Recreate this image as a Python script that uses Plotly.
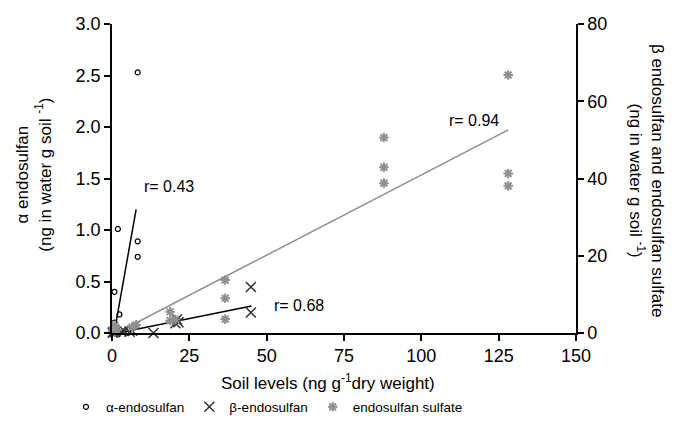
import plotly.graph_objects as go

# ---- data ----
alpha_x = [0.2, 0.3, 0.5, 0.8, 0.8, 1.0, 1.9, 2.4, 8.3, 8.3, 8.3]
alpha_y = [0.00, 0.02, 0.05, 0.40, 0.10, 0.03, 1.01, 0.18, 2.53, 0.89, 0.74]

beta_x = [0.2, 0.5, 1.0, 3.0, 4.0, 5.7, 6.5, 13.4, 20.5, 21.0, 21.5, 44.9, 44.9]
beta_y = [0.1, 0.3, 0.2, 0.4, 0.5, 0.3, 0.6, 0.0, 2.5, 3.5, 2.8, 11.9, 5.3]

sulfate_x = [0.2, 0.5, 0.8, 1.0, 1.5, 6.5, 7.8, 18.8, 18.8, 20.5,
             36.6, 36.6, 36.6, 87.9, 87.9, 87.9, 128.1, 128.1, 128.1]
sulfate_y = [0.5, 1.2, 0.3, 2.0, 0.8, 1.5, 2.1, 5.5, 3.2, 3.5,
             13.7, 9.0, 3.6, 50.6, 42.9, 38.8, 66.8, 41.3, 38.1]

alpha_fit_x = [1.0, 7.8]
alpha_fit_y = [0.05, 1.20]
beta_fit_x = [1.9, 45.1]
beta_fit_y = [0.0, 7.0]
sulfate_fit_x = [1.5, 128.1]
sulfate_fit_y = [0.0, 52.6]

r_labels = ["r= 0.43", "r= 0.68", "r= 0.94"]
r_x = [9.8, 51.6, 108.4]
r_y = [1.42, 0.27, 2.06]

x_ticks = [0, 25, 50, 75, 100, 125, 150]
yl_ticks = [0.0, 0.5, 1.0, 1.5, 2.0, 2.5, 3.0]
yr_ticks = [0, 20, 40, 60, 80]

FONT = "Liberation Sans, Arial, sans-serif"
GRAY = "#8f8f8f"

fig = go.Figure()

# fit lines
fig.add_trace(go.Scatter(x=alpha_fit_x, y=alpha_fit_y, mode="lines",
                         line=dict(color="black", width=1.5), showlegend=False,
                         yaxis="y"))
fig.add_trace(go.Scatter(x=beta_fit_x, y=beta_fit_y, mode="lines",
                         line=dict(color="black", width=1.5), showlegend=False,
                         yaxis="y2"))
fig.add_trace(go.Scatter(x=sulfate_fit_x, y=sulfate_fit_y, mode="lines",
                         line=dict(color=GRAY, width=1.5), showlegend=False,
                         yaxis="y2"))

# points
fig.add_trace(go.Scatter(x=alpha_x, y=alpha_y, mode="markers", name="α-endosulfan",
                         marker=dict(symbol="circle-open", size=5,
                                     color="black", line=dict(width=1.2)),
                         cliponaxis=False, yaxis="y"))
fig.add_trace(go.Scatter(x=beta_x, y=beta_y, mode="markers", name="β-endosulfan",
                         marker=dict(symbol="x-thin-open", size=10,
                                     color="#333333", line=dict(width=1.5)),
                         cliponaxis=False, yaxis="y2"))
fig.add_trace(go.Scatter(x=sulfate_x, y=sulfate_y, mode="markers", name="endosulfan sulfate",
                         marker=dict(symbol="asterisk-open", size=8,
                                     color=GRAY, line=dict(width=2, color=GRAY)),
                         cliponaxis=False, yaxis="y2"))

for t, xv, yv in zip(r_labels, r_x, r_y):
    fig.add_annotation(x=xv, y=yv, xref="x", yref="y", text=t, showarrow=False,
                       xanchor="left", yanchor="middle",
                       font=dict(size=16, color="black", family=FONT))

# axis titles as annotations
fig.add_annotation(x=0.465, y=-0.159, xref="paper", yref="paper",
                   text="Soil levels (ng g<sup>-1</sup>dry weight)", showarrow=False,
                   xanchor="center", yanchor="middle",
                   font=dict(size=17, color="black", family=FONT))
fig.add_annotation(x=-0.169, y=0.511, xref="paper", yref="paper",
                   text="α endosulfan<br>(ng in water g soil <sup>-1</sup>)",
                   showarrow=False, textangle=-90, xanchor="center", yanchor="middle",
                   font=dict(size=17, color="black", family=FONT))
fig.add_annotation(x=1.151, y=0.492, xref="paper", yref="paper",
                   text="β endosulfan and endosulfan sulfate<br>(ng in water g soil <sup>-1</sup>)",
                   showarrow=False, textangle=90, xanchor="center", yanchor="middle",
                   font=dict(size=17, color="black", family=FONT))

axis_common = dict(showline=True, linecolor="black", linewidth=1.5,
                   ticks="outside", ticklen=6, tickwidth=1.5, tickcolor="black",
                   showgrid=False, zeroline=False,
                   tickfont=dict(size=18, color="black", family=FONT))

fig.update_layout(
    width=673, height=424,
    margin=dict(l=112, r=97, t=24, b=91, autoexpand=False),
    paper_bgcolor="white", plot_bgcolor="white",
    font=dict(family=FONT, color="black"),
    xaxis=dict(range=[0, 150], tickvals=x_ticks, **axis_common),
    yaxis=dict(range=[0, 3], tickvals=yl_ticks, tickformat=".1f", **axis_common),
    yaxis2=dict(range=[0, 80], tickvals=yr_ticks, overlaying="y", side="right",
                anchor="x", **axis_common),
    legend=dict(orientation="h", xref="container", x=66 / 673, xanchor="left",
                yref="container", y=(424 - 407) / 424, yanchor="middle",
                font=dict(size=13.5, color="black", family=FONT),
                itemwidth=30, tracegroupgap=0, bgcolor="rgba(0,0,0,0)"),
)

fig.write_html("out.html")
